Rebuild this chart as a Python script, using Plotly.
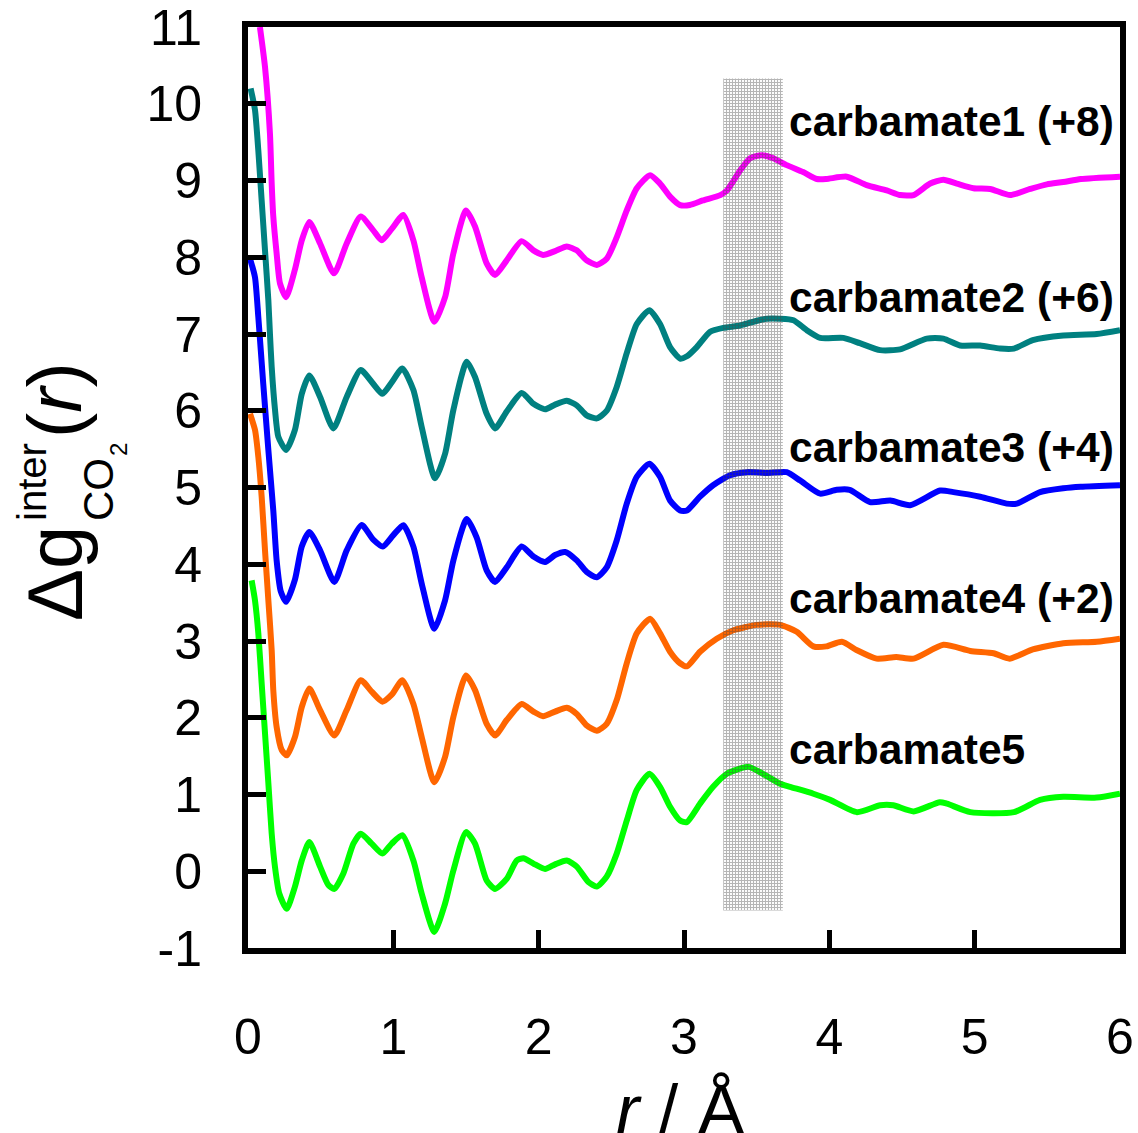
import plotly.graph_objects as go

# ---------------- data (values as displayed, offsets included) ----------------
c5_x = [0.025, 0.048, 0.071, 0.094, 0.117, 0.140, 0.163, 0.186, 0.215, 0.266, 0.323, 0.37, 0.422,
        0.496, 0.553, 0.594, 0.656, 0.725, 0.776, 0.851, 0.925, 0.989, 1.062, 1.138, 1.195, 1.282,
        1.356, 1.413, 1.5, 1.562, 1.642, 1.7, 1.78, 1.849, 1.895, 1.964, 2.044, 2.113, 2.193, 2.262,
        2.342, 2.4, 2.468, 2.537, 2.606, 2.675, 2.762, 2.835, 2.904, 2.973, 3.019, 3.11, 3.2, 3.295,
        3.443, 3.524, 3.661, 3.73, 3.89, 4.005, 4.19, 4.35, 4.44, 4.58, 4.76, 4.81, 4.97, 5.27,
        5.45, 5.61, 5.84, 6.0]
c5_y = [3.79, 3.53, 3.10, 2.45, 1.80, 1.15, 0.49, 0.05, -0.29, -0.49, -0.2, 0.14, 0.38,
        0.06, -0.18, -0.23, -0.03, 0.36, 0.49, 0.36, 0.23, 0.36, 0.47, 0.14, -0.29, -0.79,
        -0.42, 0.01, 0.51, 0.36, -0.12, -0.23, -0.1, 0.14, 0.17, 0.10, 0.03, 0.09, 0.14, 0.06,
        -0.14, -0.2, -0.07, 0.23, 0.66, 1.06, 1.27, 1.10, 0.84, 0.66, 0.64, 0.88, 1.10, 1.27,
        1.36, 1.29, 1.14, 1.10, 1.01, 0.93, 0.77, 0.86, 0.86, 0.78, 0.90, 0.88, 0.77, 0.77,
        0.93, 0.97, 0.96, 1.01]

c4_x = [0.014, 0.048, 0.071, 0.094, 0.117, 0.140, 0.163, 0.174, 0.197, 0.232, 0.266, 0.323, 0.37,
        0.422, 0.496, 0.594, 0.679, 0.776, 0.851, 0.925, 0.989, 1.062, 1.138, 1.195, 1.282, 1.356,
        1.413, 1.5, 1.562, 1.642, 1.7, 1.78, 1.883, 1.964, 2.03, 2.113, 2.193, 2.262, 2.33, 2.4,
        2.468, 2.537, 2.606, 2.675, 2.767, 2.835, 2.904, 2.973, 3.02, 3.11, 3.225, 3.34, 3.50,
        3.661, 3.776, 3.89, 3.98, 4.086, 4.19, 4.325, 4.46, 4.58, 4.785, 4.97, 5.13, 5.24, 5.40,
        5.61, 5.84, 6.0]
c4_y = [5.96, 5.75, 5.40, 4.88, 4.18, 3.53, 2.88, 2.36, 1.88, 1.58, 1.51, 1.75, 2.14,
        2.38, 2.10, 1.77, 2.10, 2.49, 2.34, 2.21, 2.30, 2.49, 2.18, 1.75, 1.16, 1.49,
        2.01, 2.55, 2.36, 1.92, 1.77, 1.97, 2.18, 2.08, 2.02, 2.08, 2.13, 2.05, 1.90, 1.83,
        1.92, 2.23, 2.71, 3.10, 3.29, 3.10, 2.86, 2.71, 2.67, 2.86, 3.03, 3.14, 3.21,
        3.21, 3.12, 2.93, 2.93, 2.99, 2.88, 2.77, 2.79, 2.77, 2.95, 2.87, 2.84, 2.77, 2.89,
        2.97, 2.99, 3.03]

c3_x = [0.014, 0.048, 0.071, 0.105, 0.140, 0.174, 0.197, 0.225, 0.262, 0.323, 0.37, 0.422, 0.496,
        0.594, 0.679, 0.782, 0.862, 0.927, 1.0, 1.069, 1.138, 1.195, 1.282, 1.356, 1.413, 1.505,
        1.573, 1.642, 1.7, 1.78, 1.883, 1.964, 2.044, 2.113, 2.182, 2.262, 2.33, 2.4, 2.468,
        2.537, 2.606, 2.675, 2.762, 2.835, 2.904, 2.973, 3.02, 3.11, 3.2, 3.317, 3.432, 3.57,
        3.707, 3.80, 3.937, 4.05, 4.14, 4.28, 4.42, 4.556, 4.762, 4.854, 5.038, 5.22, 5.29,
        5.45, 5.61, 5.73, 6.0]
c3_y = [7.98, 7.74, 7.22, 6.35, 5.49, 4.70, 4.05, 3.65, 3.51, 3.80, 4.23, 4.42, 4.18,
        3.77, 4.18, 4.51, 4.32, 4.23, 4.38, 4.51, 4.23, 3.75, 3.16, 3.53, 4.05, 4.59,
        4.35, 3.92, 3.77, 3.96, 4.23, 4.10, 4.03, 4.12, 4.16, 4.05, 3.90, 3.83, 3.96,
        4.31, 4.79, 5.14, 5.31, 5.14, 4.83, 4.70, 4.70, 4.88, 5.03, 5.16, 5.20, 5.19,
        5.20, 5.09, 4.92, 4.97, 4.97, 4.81, 4.83, 4.77, 4.96, 4.94, 4.88, 4.79, 4.79,
        4.94, 4.99, 5.01, 5.03]

c2_x = [0.018, 0.048, 0.071, 0.094, 0.117, 0.140, 0.151, 0.163, 0.186, 0.209, 0.262, 0.323, 0.37,
        0.422, 0.496, 0.587, 0.679, 0.776, 0.862, 0.925, 0.989, 1.062, 1.138, 1.195, 1.287, 1.356,
        1.413, 1.505, 1.562, 1.642, 1.7, 1.78, 1.883, 1.964, 2.044, 2.113, 2.193, 2.262, 2.33,
        2.4, 2.468, 2.537, 2.606, 2.675, 2.762, 2.835, 2.904, 2.973, 3.02, 3.088, 3.18, 3.27,
        3.386, 3.478, 3.57, 3.66, 3.753, 3.845, 3.937, 4.097, 4.21, 4.35, 4.487, 4.67, 4.785,
        4.9, 5.038, 5.175, 5.27, 5.40, 5.61, 5.84, 6.0]
c2_y = [10.2, 9.92, 9.39, 8.74, 8.09, 7.44, 7.0, 6.57, 6.01, 5.66, 5.49, 5.75, 6.22,
        6.46, 6.18, 5.77, 6.18, 6.53, 6.35, 6.22, 6.37, 6.55, 6.27, 5.79, 5.12, 5.44,
        6.01, 6.64, 6.44, 5.96, 5.77, 5.99, 6.23, 6.09, 6.02, 6.08, 6.13, 6.07, 5.94,
        5.90, 6.00, 6.31, 6.75, 7.13, 7.31, 7.13, 6.83, 6.68, 6.71, 6.83, 7.03, 7.08,
        7.11, 7.16, 7.20, 7.20, 7.18, 7.05, 6.95, 6.95, 6.88, 6.79, 6.80, 6.94, 6.94,
        6.85, 6.85, 6.81, 6.81, 6.92, 6.98, 7.00, 7.05]

c1_x = [0.082, 0.117, 0.151, 0.163, 0.174, 0.197, 0.22, 0.262, 0.323, 0.37, 0.422, 0.496, 0.592,
        0.679, 0.776, 0.862, 0.92, 0.989, 1.069, 1.138, 1.195, 1.282, 1.356, 1.413, 1.5, 1.562,
        1.642, 1.7, 1.78, 1.883, 1.964, 2.03, 2.113, 2.193, 2.262, 2.33, 2.4, 2.468, 2.537,
        2.606, 2.675, 2.767, 2.835, 2.904, 2.973, 3.04, 3.13, 3.25, 3.295, 3.386, 3.455, 3.535,
        3.615, 3.707, 3.82, 3.914, 3.98, 4.12, 4.257, 4.395, 4.487, 4.58, 4.694, 4.785, 4.877,
        4.992, 5.107, 5.244, 5.382, 5.497, 5.61, 5.73, 6.0]
c1_y = [11.0, 10.48, 9.61, 8.96, 8.53, 8.05, 7.66, 7.48, 7.84, 8.22, 8.46, 8.18, 7.79,
        8.18, 8.53, 8.35, 8.22, 8.37, 8.55, 8.22, 7.74, 7.16, 7.48, 8.05, 8.61, 8.40,
        7.92, 7.77, 7.96, 8.21, 8.09, 8.03, 8.08, 8.14, 8.09, 7.96, 7.90, 7.98, 8.26,
        8.61, 8.90, 9.07, 8.96, 8.79, 8.68, 8.68, 8.74, 8.81, 8.87, 9.13, 9.29, 9.33,
        9.29, 9.20, 9.11, 9.02, 9.02, 9.05, 8.94, 8.87, 8.81, 8.81, 8.96, 9.01, 8.96,
        8.90, 8.89, 8.81, 8.89, 8.95, 8.98, 9.02, 9.05]

series_names = ["carbamate1 (+8)", "carbamate2 (+6)", "carbamate3 (+4)", "carbamate4 (+2)", "carbamate5"]
series_colors = ["#FF00FF", "#008080", "#0000FF", "#FF6600", "#00FF00"]
label_y = [9.77, 7.47, 5.52, 3.55, 1.59]
label_x = 3.71

band_x = [3.27, 3.68]
band_y = [-0.51, 10.33]

x_ticks = [0, 1, 2, 3, 4, 5, 6]
y_ticks = [-1, 0, 1, 2, 3, 4, 5, 6, 7, 8, 9, 10, 11]
y_ticktext = ["-1", "0", "1", "2", "3", "4", "5", "6", "7", "8", "9", "10", "11"]

# ---------------- figure ----------------
FONT = "Liberation Sans, Arial, sans-serif"
fig = go.Figure()

xs = [c1_x, c2_x, c3_x, c4_x, c5_x]
ys = [c1_y, c2_y, c3_y, c4_y, c5_y]
for name, color, x, y in zip(series_names, series_colors, xs, ys):
    fig.add_trace(go.Scatter(x=x, y=y, mode="lines", name=name,
                             line=dict(color=color, width=6, shape="spline", smoothing=0.6)))

# shaded band (dotted pattern on top of lines)
fig.add_trace(go.Scatter(
    x=[band_x[0], band_x[1], band_x[1], band_x[0], band_x[0]],
    y=[band_y[0], band_y[0], band_y[1], band_y[1], band_y[0]],
    mode="none", fill="toself", fillcolor="rgba(0,0,0,0)",
    fillpattern=dict(shape="+", size=3, solidity=0.6, fgcolor="rgba(70,70,70,0.8)",
                     bgcolor="rgba(255,255,255,0)"),
    hoverinfo="skip", showlegend=False))

for name, yv in zip(series_names, label_y):
    fig.add_annotation(x=label_x, y=yv, xref="x", yref="y", text="<b>" + name + "</b>",
                       showarrow=False, xanchor="left", yanchor="middle",
                       font=dict(family=FONT, size=42.5, color="black"))

# y-axis title pieces (paper coords from pixel positions)
def px2paper(px, py):
    return (px - 248) / 872.0, (948 - py) / 921.0

title_parts = [
    ("Δg", 78, 55, 574),
    ("inter", 40, 32, 482),
    ("CO", 42, 98, 490),
    ("2", 24, 118, 450),
    ("(<i>r</i>)", 76, 55, 400),
]
for txt, sz, px, py in title_parts:
    xp, yp = px2paper(px, py)
    fig.add_annotation(x=xp, y=yp, xref="paper", yref="paper", text=txt, showarrow=False,
                       textangle=-90, xanchor="center", yanchor="middle",
                       font=dict(family=FONT, size=sz, color="black"))

xp, yp = px2paper(680, 1110)
fig.add_annotation(x=xp, y=yp, xref="paper", yref="paper", text="<i>r</i> / Å", showarrow=False,
                   xanchor="center", yanchor="middle", font=dict(family=FONT, size=70, color="black"))

axis_common = dict(showline=True, linewidth=6, linecolor="black", mirror=True,
                   ticks="inside", ticklen=18, tickwidth=5, tickcolor="black",
                   showgrid=False, zeroline=False, automargin=False,
                   ticklabeloverflow="allow",
                   tickfont=dict(family=FONT, size=50, color="black"))

fig.update_xaxes(range=[0, 6], tickmode="array", tickvals=x_ticks, ticklabelstandoff=40, **axis_common)
fig.update_yaxes(range=[-1, 11], tickmode="array", tickvals=y_ticks, ticktext=y_ticktext,
                 ticklabelstandoff=30, **axis_common)

fig.update_layout(width=1138, height=1133, margin=dict(l=248, r=18, t=27, b=185),
                  plot_bgcolor="white", paper_bgcolor="white", showlegend=False,
                  font=dict(family=FONT))

fig.write_html("out.html")
